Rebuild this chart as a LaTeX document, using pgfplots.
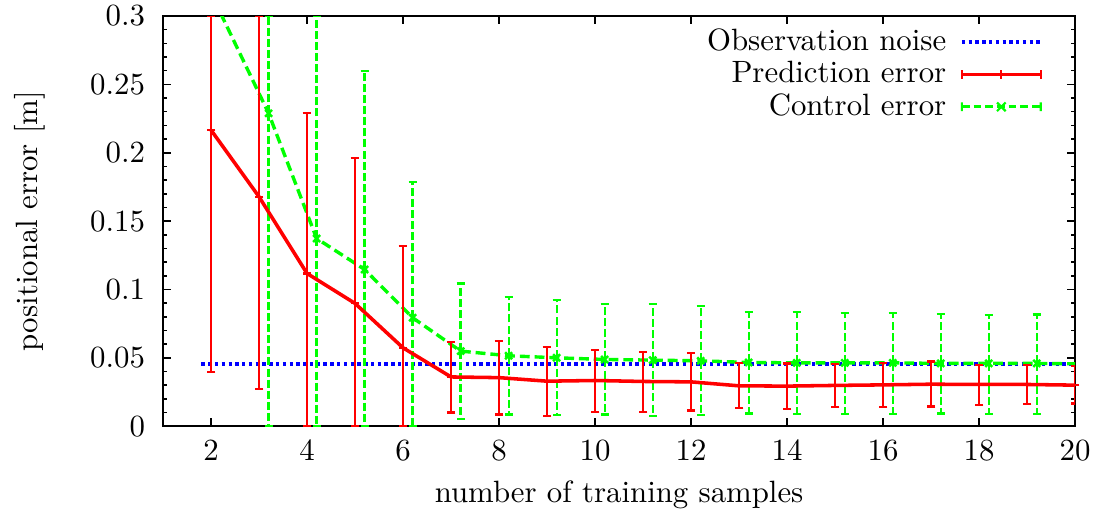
\documentclass[border=0pt]{standalone}
\usepackage{pgfplots}
\usepackage{pgfplotstable}
\pgfplotsset{compat=1.18}
\definecolor{gpred}{RGB}{255,0,0}
\definecolor{gpgreen}{RGB}{0,255,0}
\definecolor{gpblue}{RGB}{0,0,255}
\pgfplotstableread{
x y top bot
2 0.2166 0.3 0.0395
3 0.1678 0.3 0.027
4 0.1117 0.229 0
5 0.0898 0.196 0
6 0.0573 0.132 0
7 0.0360 0.0617 0.0100
8 0.0355 0.0622 0.0085
9 0.0329 0.0580 0.0073
10 0.0334 0.0558 0.0105
11 0.0327 0.0544 0.0105
12 0.0324 0.0537 0.0115
13 0.0295 0.0463 0.0134
14 0.0293 0.0459 0.0127
15 0.0298 0.0454 0.0139
16 0.0302 0.0463 0.0141
17 0.0307 0.0473 0.0144
18 0.0305 0.0449 0.0154
19 0.0305 0.0449 0.0161
20 0.0300 0.0439 0.0166
}\pred
\pgfplotstableread{
x y top bot
2.2 0.302 0.302 0.302
3.2 0.2288 0.3 0
4.2 0.1373 0.3 0
5.2 0.1146 0.260 0
6.2 0.0793 0.1788 0
7.2 0.0549 0.1044 0.0051
8.2 0.0515 0.0946 0.0085
9.2 0.0500 0.0922 0.0080
10.2 0.0488 0.0893 0.0085
11.2 0.0483 0.0893 0.0075
12.2 0.0478 0.0878 0.0080
13.2 0.0466 0.0837 0.0093
14.2 0.0463 0.0834 0.0088
15.2 0.0463 0.0829 0.0088
16.2 0.0463 0.0829 0.0088
17.2 0.0459 0.0820 0.0093
18.2 0.0459 0.0815 0.0088
19.2 0.0459 0.0817 0.0088
20.2 0.0455 0.0455 0.0455
}\ctrl
\pgfplotstableread{
x y
1.8 0.0455
20 0.0455
}\noise
\begin{document}
\begin{tikzpicture}
\begin{axis}[
  scale only axis,
  width=296pt, height=133.1pt,
  xmin=1, xmax=20, ymin=0, ymax=0.3,
  xtick={2,4,...,20},
  ytick={0,0.05,0.1,0.15,0.2,0.25,0.3},
  yticklabels={0,0.05,0.1,0.15,0.2,0.25,0.3},
  minor ytick={0.01,0.02,...,0.3},
  tick align=inside,
  major tick length=2.7pt,
  minor tick length=1.4pt,
  tick style={black, line width=0.5pt},
  axis line style={line width=0.6pt},
  xticklabel style={yshift=-1.2pt},
  yticklabel style={xshift=-2.3pt},
  xlabel={number of training samples},
  ylabel={positional error [m]},
  every axis x label/.style={at={(axis description cs:0.5,-0.168)}, anchor=center},
  every axis y label/.style={at={(axis description cs:-0.146,0.5)}, rotate=90, anchor=center},
  legend cell align=right,
  legend plot pos=right,
  legend style={draw=none, fill=none, at={(0.975,1.0)}, anchor=north east, row sep=-2pt},
]
\addlegendimage{legend image code/.code={\path (0,0); \draw[gpblue, line width=1.1pt, dash pattern=on 1.1pt off 1.1pt] (0.1cm,0)--(1.0cm,0);}}
\addlegendentry{Observation noise}
\addlegendimage{legend image code/.code={\path (0,0); \draw[gpred, line width=1pt] (0.1cm,0)--(1.0cm,0);
  \draw[gpred, line width=0.7pt] (0.1cm,-1.4pt)--(0.1cm,1.4pt) (0.55cm,-1.4pt)--(0.55cm,1.4pt) (1.0cm,-1.4pt)--(1.0cm,1.4pt);}}
\addlegendentry{Prediction error}
\addlegendimage{legend image code/.code={\path (0,0); \draw[gpgreen, line width=1pt, dash pattern=on 2.5pt off 1.3pt] (0.1cm,0)--(1.0cm,0);
  \draw[gpgreen, line width=0.7pt] (0.1cm,-1.4pt)--(0.1cm,1.4pt) (1.0cm,-1.4pt)--(1.0cm,1.4pt) (0.55cm-1.4pt,-1.4pt)--(0.55cm+1.4pt,1.4pt) (0.55cm-1.4pt,1.4pt)--(0.55cm+1.4pt,-1.4pt);}}
\addlegendentry{Control error}

\addplot[forget plot, gpblue, line width=1.1pt, dash pattern=on 1.1pt off 1.1pt] table[x=x,y=y] {\noise};

\addplot[forget plot, gpgreen, line width=1.1pt, dash pattern=on 3.2pt off 1.6pt] table[x=x,y=y] {\ctrl};
\addplot[forget plot, gpgreen, draw=none, mark=x, mark size=1.6pt, mark options={solid, line width=0.8pt},
  skip coords between index={0}{1}, skip coords between index={18}{19},
  error bars/.cd, y dir=both, y explicit,
  error bar style={gpgreen, line width=0.75pt, dash pattern=on 2.6pt off 1pt},
  error mark options={gpgreen, solid, rotate=90, mark size=1.3pt, line width=0.75pt}]
  table[x=x, y=y, y error plus expr=\thisrow{top}-\thisrow{y}, y error minus expr=\thisrow{y}-\thisrow{bot}] {\ctrl};

\addplot[forget plot, gpred, line width=1.15pt, mark=-, mark size=1.4pt, mark options={line width=0.7pt},
  error bars/.cd, y dir=both, y explicit,
  error bar style={gpred, line width=0.75pt},
  error mark options={gpred, rotate=90, mark size=1.4pt, line width=0.75pt}]
  table[x=x, y=y, y error plus expr=\thisrow{top}-\thisrow{y}, y error minus expr=\thisrow{y}-\thisrow{bot}] {\pred};
\coordinate (ll) at (rel axis cs:0,0);
\coordinate (ur) at (rel axis cs:1,1);
\end{axis}
\pgfresetboundingbox
\path ([xshift=-52.9pt,yshift=-29.9pt]ll) rectangle ([xshift=8.4pt,yshift=5.2pt]ur);
\end{tikzpicture}
\end{document}
